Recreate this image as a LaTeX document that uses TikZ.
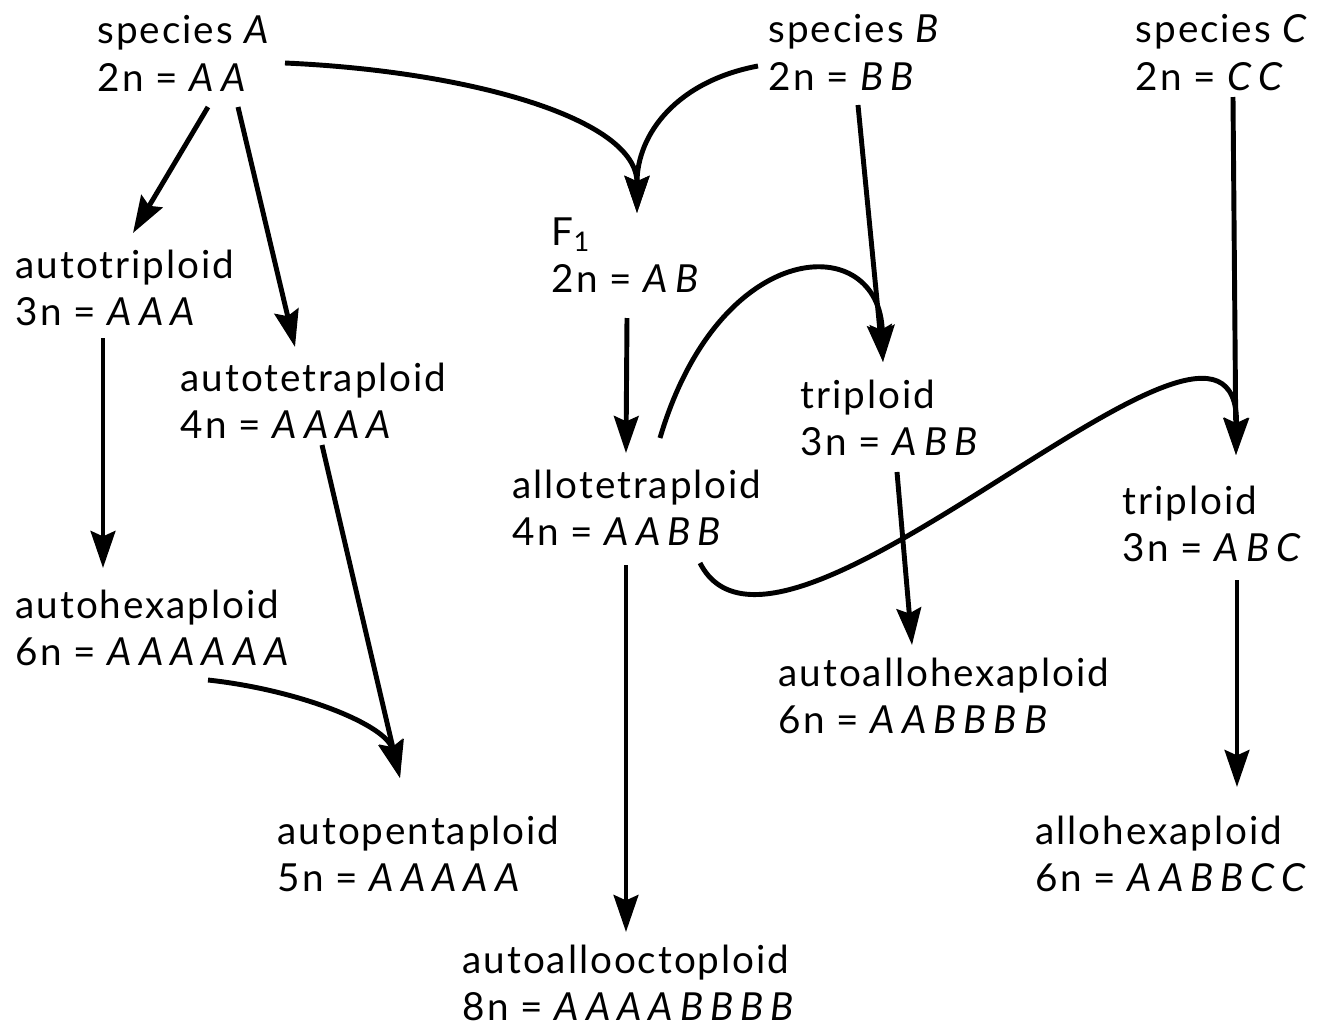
\documentclass[tikz,border=0pt]{standalone}
\usepackage{fontspec}
\setmainfont{Lato}[LetterSpace=5]
\usepackage{tikz}
\usetikzlibrary{calc,arrows.meta}
\newcommand\genome[1]{\textit{\addfontfeature{LetterSpace=18}#1}}

\begin{document}
\begin{tikzpicture}[
	%	style def
    x=0.1mm, y=-0.1mm,
    ploidy/.style={anchor=north west, inner sep=0pt, align=left,
        font=\fontsize{11}{13.4}\selectfont},
    cross line/.style={line width=1.4pt, -{Stealth[length=10.5pt,width=7pt,inset=1.5pt]}}
    ]
    \useasboundingbox (0,0) rectangle (1317,1026);

	% parental species
    \node[ploidy] (spA) at (97,15)   {species \genome{A}\\2n = \genome{AA}};
    \node[ploidy] (spB) at (768,14)  {species \genome{B}\\2n = \genome{BB}};
    \node[ploidy] (spC) at (1135,14) {species \genome{C}\\2n = \genome{CC}};

    % auto line
    \node[ploidy] (atri)  at (15,249)  {autotriploid\\3n = \genome{AAA}};
    \node[ploidy] (atet)  at (180,362) {autotetraploid\\4n = \genome{AAAA}};
    \node[ploidy] (ahex)  at (15,589)  {autohexaploid\\6n = \genome{AAAAAA}};
    \node[ploidy] (apent) at (277,815) {autopentaploid\\5n = \genome{AAAAA}};

    % hybrids
    \node[ploidy] (F1)     at (551,217)  {F\textsubscript{1}\\2n = \genome{AB}};
    \node[ploidy] (allot)  at (512,469)  {allotetraploid\\4n = \genome{AABB}};
    \node[ploidy] (aaoct)  at (462,944)  {autoallooctoploid\\8n = \genome{AAAABBBB}};
    \node[ploidy] (trB)    at (800,379)  {triploid\\3n = \genome{ABB}};
    \node[ploidy] (aahex)  at (778,657)  {autoallohexaploid\\6n = \genome{AABBBB}};
    \node[ploidy] (trC)    at (1122,485) {triploid\\3n = \genome{ABC}};
    \node[ploidy] (allhex) at (1035,815) {allohexaploid\\6n = \genome{AABBCC}};

    % straight connections
    \draw[cross line] ($(spA.north west)+(111,92)$) -- ($(atri.north west)+(118,-16)$);
    \draw[cross line] ($(spA.north west)+(141,92)$) -- ($(atet.north west)+(115,-15)$);
    \draw[cross line] ($(spB.north west)+(90,91)$) -- ($(trB.north west)+(83,-17)$);
    \draw[cross line] ($(spC.north west)+(98,83)$) -- ($(trC.north west)+(114,-30)$);
    \draw[cross line] ($(atri.north west)+(88,89)$) -- ($(ahex.north west)+(88,-21)$);
    \draw[cross line] ($(atet.north west)+(142,83)$) -- ($(apent.north west)+(123,-37)$);
    \draw[cross line] ($(F1.north west)+(76,101)$) -- ($(allot.north west)+(114,-16)$);
    \draw[cross line] ($(allot.north west)+(114,96)$) -- ($(aaoct.north west)+(164,-12)$);
    \draw[cross line] ($(trB.north west)+(97,93)$) -- ($(aahex.north west)+(134,-12)$);
    \draw[cross line] ($(trC.north west)+(115,95)$) -- ($(allhex.north west)+(202,-28)$);

    % curved connections
    \draw[cross line] ($(spA.north west)+(188,48)$) .. controls +(182,8) and +(0,-95) .. ($(F1.north west)+(86,-4)$);
    \draw[cross line] ($(spB.north west)+(-10,52)$) .. controls +(-80,15) and +(0,-80) .. ($(F1.north west)+(86,-4)$);
    \draw[cross line] ($(ahex.north west)+(193,91)$) .. controls +(92,10) and +(-14,-53) .. ($(apent.north west)+(123,-37)$);
    \draw[cross line] ($(allot.north west)+(148,-31)$) .. controls +(60,-203) and +(-3,-132) .. ($(trB.north west)+(83,-17)$);
    \draw[cross line] ($(allot.north west)+(188,94)$) .. controls +(80,157) and +(4,-225) .. ($(trC.north west)+(114,-30)$);
\end{tikzpicture}
\end{document}
